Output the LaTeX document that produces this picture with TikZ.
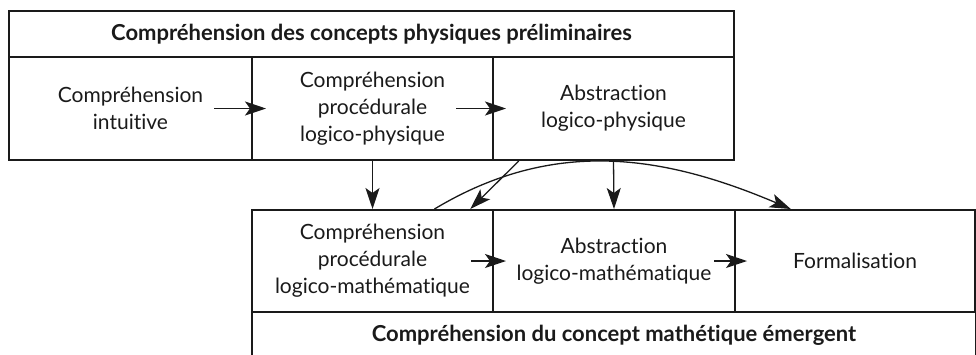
\documentclass[tikz,border=0pt]{standalone}
\usepackage{fontspec}
\setmainfont{Lato}[Ligatures=NoCommon]
\usetikzlibrary{arrows.meta, positioning}
\definecolor{InkBlack}{HTML}{1A1A1A}
\tikzset{
  cell/.style={draw=InkBlack, line width=2pt, minimum height=103pt, inner sep=0pt, align=center, text=InkBlack, font=\fontsize{21}{27}\selectfont},
  headbox/.style={draw=InkBlack, line width=2pt, minimum height=46pt, inner sep=0pt, align=center, text=InkBlack, font=\fontsize{22}{27}\selectfont\bfseries},
  arrow/.style={-{Stealth[length=21pt, width=14pt, inset=5pt]}, line width=1.3pt, draw=InkBlack}
}

\begin{document}
\begin{tikzpicture}[x=1pt, y=-1pt]
\useasboundingbox (0,0) rectangle (976,354);
% concepts physiques
\node[headbox, minimum width=725pt] (phys) at (371.5,34) {Compréhension des concepts physiques préliminaires};
\node[cell, minimum width=243pt] (ci) at (130.5,108.5) {Compréhension\\intuitive};
\node[cell, minimum width=241pt] (cplp) at (372.5,108.5) {Compréhension\\procédurale\\logico-physique};
\node[cell, minimum width=241pt] (alp) at (613.5,108.5) {Abstraction\\logico-physique};
% concept mathematique
\node[cell, minimum width=241pt, minimum height=102pt] (cpm) at (372.5,261) {Compréhension\\procédurale\\logico-mathématique};
\node[cell, minimum width=242pt, minimum height=102pt] (alm) at (614,261) {Abstraction\\logico-mathématique};
\node[cell, minimum width=240pt, minimum height=102pt] (form) at (855,261) {Formalisation};
\node[headbox, minimum width=724pt] (math) at (614,335) {Compréhension du concept mathétique émergent};
% fleches
\draw[arrow] ([xshift=-39pt]ci.east) -- ([xshift=15pt]cplp.west);
\draw[arrow] ([xshift=-38pt]cplp.east) -- ([xshift=14pt]alp.west);
\draw[arrow] ([xshift=-23pt]cpm.east) -- ([xshift=14pt]alm.west);
\draw[arrow] ([xshift=-22pt]alm.east) -- ([xshift=13pt]form.west);
\draw[arrow] (cplp.south) -- (cpm.north);
\draw[arrow] (alp.south) -- (alm.north);
\draw[arrow] (alp.209) -- (cpm.28);
\draw[arrow] (cpm.40) to[out=31, in=157] (form.141);
\end{tikzpicture}
\end{document}
